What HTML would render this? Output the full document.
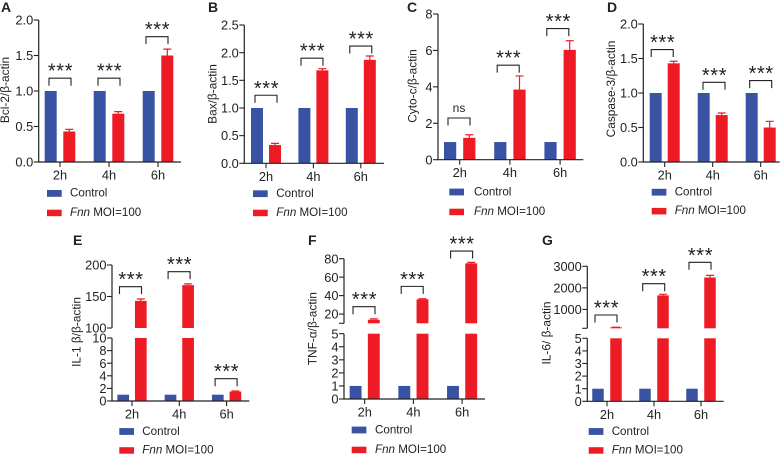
<!DOCTYPE html>
<html lang="en">
<head>
<meta charset="utf-8">
<title>Protein expression bar charts</title>
<style>
html,body{margin:0;padding:0;background:#fff;width:783px;height:454px;overflow:hidden}
svg{display:block;filter:blur(0.35px)}
text{font-family:"Liberation Sans",Arial,sans-serif;fill:#222}
</style>
</head>
<body>
<svg id="chart" width="783" height="454" viewBox="0 0 783 454" xmlns="http://www.w3.org/2000/svg"></svg>
<script>
const categories = ['2h', '4h', '6h'];
const controlName = 'Control';
const fnnNameItalic = 'Fnn';
const fnnNameRest = ' MOI=100';

const bcl2Control = [1, 1, 1];
const bcl2Fnn = [0.43, 0.68, 1.5];
const bcl2Error = [0.03, 0.03, 0.09];
const bcl2Ticks = [0, 0.5, 1, 1.5, 2];
const bcl2TickLabels = ['0.0', '0.5', '1.0', '1.5', '2.0'];
const bcl2Sig = ['***', '***', '***'];
const bcl2SigLevel = [1.18, 1.18, 1.765];

const baxControl = [1, 1, 1];
const baxFnn = [0.33, 1.68, 1.87];
const baxError = [0.03, 0.03, 0.07];
const baxTicks = [0, 0.5, 1, 1.5, 2, 2.5];
const baxTickLabels = ['0.0', '0.5', '1.0', '1.5', '2.0', '2.5'];
const baxSig = ['***', '***', '***'];
const baxSigLevel = [1.23, 1.9, 2.12];

const cytoControl = [0.97, 0.97, 0.97];
const cytoFnn = [1.2, 3.85, 6.03];
const cytoError = [0.17, 0.75, 0.5];
const cytoTicks = [0, 2, 4, 6, 8];
const cytoTickLabels = ['0', '2', '4', '6', '8'];
const cytoSig = ['ns', '***', '***'];
const cytoSigLevel = [2.29, 5.19, 7.2];

const caspControl = [1, 1, 1];
const caspFnn = [1.43, 0.68, 0.5];
const caspError = [0.03, 0.03, 0.09];
const caspTicks = [0, 0.5, 1, 1.5, 2];
const caspTickLabels = ['0.0', '0.5', '1.0', '1.5', '2.0'];
const caspSig = ['***', '***', '***'];
const caspSigLevel = [1.63, 1.155, 1.18];

const il1Control = [1, 1, 1];
const il1Fnn = [143, 168, 1.5];
const il1Error = [3, 2, 0.1];
const il1Ticks = [0, 2, 4, 6, 8, 10];
const il1TickLabels = ['0', '2', '4', '6', '8', '10'];
const il1UpperTicks = [100, 150, 200];
const il1UpperLabels = ['100', '150', '200'];
const il1Sig = ['***', '***', '***'];
const il1SigLevel = [165.6, 189.4, 3.54];

const tnfControl = [1, 1, 1];
const tnfFnn = [13.8, 36, 75];
const tnfError = [1, 0.6, 1];
const tnfTicks = [0, 1, 2, 3, 4, 5];
const tnfTickLabels = ['0', '1', '2', '3', '4', '5'];
const tnfUpperTicks = [10, 20, 40, 60, 80];
const tnfUpperLabels = ['', '20', '40', '60', '80'];
const tnfSig = ['***', '***', '***'];
const tnfSigLevel = [28, 50, 88.3];

const il6Control = [1, 1, 1];
const il6Fnn = [170, 1650, 2480];
const il6Error = [5, 50, 100];
const il6Ticks = [0, 1, 2, 3, 4, 5];
const il6TickLabels = ['0', '1', '2', '3', '4', '5'];
const il6UpperTicks = [125, 1000, 2000, 3000];
const il6UpperLabels = ['', '1000', '2000', '3000'];
const il6Sig = ['***', '***', '***'];
const il6SigLevel = [742, 2193, 3185];

const BLUE = '#3953a4', RED = '#ed1c24', INK = '#222';
const NS = 'http://www.w3.org/2000/svg';
const root = document.getElementById('chart');

function make(tag, attrs, parent) {
  const n = document.createElementNS(NS, tag);
  for (const k in attrs) n.setAttribute(k, attrs[k]);
  parent.appendChild(n);
  return n;
}

function drawPanel(p) {
  const g = make('g', {}, root);
  
  

  const letter = make('text', {x: p.letterX, y: p.letterY, 'font-size': 14, 'font-weight': 'bold', fill: '#111'}, g);
  letter.textContent = p.letter;
  
  

  // axis functions
  const lowerMax = p.lower[1];
  function lowerY(v) { return p.lowerPx[0] + (v - p.lower[0]) / (p.lower[1] - p.lower[0]) * (p.lowerPx[1] - p.lowerPx[0]); }
  function upperY(v) { return p.upperPx[0] + (v - p.upper[0]) / (p.upper[1] - p.upper[0]) * (p.upperPx[1] - p.upperPx[0]); }
  function yOf(v) { return (!p.upper || v <= lowerMax) ? lowerY(v) : upperY(v); }
  function xOf(i) { return p.x0 + i * p.step; }

  const barW = p.barW;
  const y0 = lowerY(p.lower[0]);

  function bar(cx, value, color, name) {
    if (p.upper && value > lowerMax) {
      const a = make('rect', {x: cx - barW / 2, y: lowerY(lowerMax), width: barW, height: y0 - lowerY(lowerMax), fill: color}, g);
      
      
      const b = make('rect', {x: cx - barW / 2, y: upperY(value), width: barW, height: Math.max(0, p.upperPx[0] - upperY(value)), fill: color}, g);
      
      
    } else {
      const r = make('rect', {x: cx - barW / 2, y: lowerY(value), width: barW, height: y0 - lowerY(value), fill: color}, g);
      
      
    }
  }

  categories.forEach(function (cat, i) {
    const cx = xOf(i);
    bar(cx - p.offset, p.control[i], BLUE, 'bar-control-' + cat);
    bar(cx + p.offset, p.fnn[i], RED, 'bar-fnn-' + cat);

    const top = yOf(p.fnn[i] + p.error[i]);
    const base = yOf(p.fnn[i]);
    const ex = cx + p.offset;
    const err = make('path', {d: 'M' + ex + ' ' + base + 'V' + top + 'M' + (ex - 4) + ' ' + top + 'H' + (ex + 4), stroke: RED, 'stroke-width': 1.2, fill: 'none'}, g);
    
    

    const by = yOf(p.sigLevel[i]);
    const bx = cx + p.bracketShift[i];
    const br = make('path', {d: 'M' + (bx - 11) + ' ' + (by + 7.5) + 'V' + by + 'H' + (bx + 11) + 'V' + (by + 7.5), stroke: INK, 'stroke-width': 1.1, fill: 'none'}, g);
    
    

    const isNs = p.sig[i] === 'ns';
    const st = make('text', {x: bx + (isNs ? 0 : 0.5), y: isNs ? by - 6 : by - 0.5, 'text-anchor': 'middle', 'font-size': isNs ? 12 : 20, 'letter-spacing': isNs ? 0 : 0.6}, g);
    st.textContent = p.sig[i];
    
    

    const t = make('line', {x1: cx, x2: cx, y1: y0, y2: y0 + 5, stroke: INK, 'stroke-width': 1.1}, g);
    
    

    const tl = make('text', {x: cx, y: y0 + 17.5, 'text-anchor': 'middle', 'font-size': 12.8}, g);
    tl.textContent = cat;
    
    
  });

  // axes
  const xAxis = make('line', {x1: p.axisX - 0.6, x2: p.axisEnd, y1: y0, y2: y0, stroke: INK, 'stroke-width': 1.2}, g);
  
  
  const yAxis = make('line', {x1: p.axisX, x2: p.axisX, y1: y0, y2: lowerY(lowerMax), stroke: INK, 'stroke-width': 1.2}, g);
  
  

  function ticks(values, labels, fn, kind) {
    values.forEach(function (v, i) {
      const y = fn(v);
      const t = make('line', {x1: p.axisX - 5, x2: p.axisX, y1: y, y2: y, stroke: INK, 'stroke-width': 1.1}, g);
      
      
      if (labels[i]) {
        const l = make('text', {x: p.axisX - 5.5, y: y + 4.6, 'text-anchor': 'end', 'font-size': 12.8}, g);
        l.textContent = labels[i];
        
        
      }
    });
  }
  ticks(p.ticks, p.tickLabels, lowerY, 'y');
  if (p.upper) {
    const upAxis = make('line', {x1: p.axisX, x2: p.axisX, y1: p.upperPx[0], y2: p.upperPx[1], stroke: INK, 'stroke-width': 1.2}, g);
    
    
    ticks(p.upperTicks, p.upperLabels, upperY, 'y-upper');
  }

  const title = make('text', {transform: 'translate(' + p.titleX + ' ' + p.titleY + ') rotate(-90)', 'text-anchor': 'middle', 'font-size': 11.9}, g);
  title.textContent = p.title;
  
  

  // legend
  const s1 = make('rect', {x: p.legX, y: p.leg1Y - 6.7, width: 14.7, height: 6.8, fill: BLUE}, g);
  
  
  const t1 = make('text', {x: p.legTextX, y: p.leg1Y, 'font-size': 11.6}, g);
  t1.textContent = controlName;
  
  
  const s2 = make('rect', {x: p.legX, y: p.leg2Y - 6.3, width: 14.7, height: 6.5, fill: RED}, g);
  
  
  const t2 = make('text', {x: p.legTextX, y: p.leg2Y, 'font-size': 11.6}, g);
  const ti = make('tspan', {'font-style': 'italic'}, t2);
  ti.textContent = fnnNameItalic;
  const tr = make('tspan', {}, t2);
  tr.textContent = fnnNameRest;
  
  
}

drawPanel({id: 'bcl2', letter: 'A', letterX: 1, letterY: 12, title: 'Bcl-2/β-actin', titleX: 9, titleY: 90,
  axisX: 38.7, axisEnd: 181, x0: 60, step: 49, offset: 9.3, barW: 12,
  lower: [0, 2], lowerPx: [162, 20], ticks: bcl2Ticks, tickLabels: bcl2TickLabels,
  control: bcl2Control, fnn: bcl2Fnn, error: bcl2Error, sig: bcl2Sig, sigLevel: bcl2SigLevel, bracketShift: [0, 0, -1],
  legX: 47, legTextX: 70, leg1Y: 196.7, leg2Y: 216});

drawPanel({id: 'bax', letter: 'B', letterX: 208, letterY: 12, title: 'Bax/β-actin', titleX: 216.7, titleY: 94,
  axisX: 244.3, axisEnd: 384, x0: 266, step: 47.4, offset: 9, barW: 12,
  lower: [0, 2.5], lowerPx: [163.3, 25], ticks: baxTicks, tickLabels: baxTickLabels,
  control: baxControl, fnn: baxFnn, error: baxError, sig: baxSig, sigLevel: baxSigLevel, bracketShift: [0, -1.4, 0],
  legX: 253, legTextX: 276.3, leg1Y: 197, leg2Y: 216});

drawPanel({id: 'cyto', letter: 'C', letterX: 407, letterY: 12, title: 'Cyto-c/β-actin', titleX: 416.7, titleY: 86,
  axisX: 438, axisEnd: 583.3, x0: 459.7, step: 50.2, offset: 9.6, barW: 12.2,
  lower: [0, 8], lowerPx: [159.7, 14], ticks: cytoTicks, tickLabels: cytoTickLabels,
  control: cytoControl, fnn: cytoFnn, error: cytoError, sig: cytoSig, sigLevel: cytoSigLevel, bracketShift: [-0.7, -1.7, -2.3],
  legX: 449.3, legTextX: 474, leg1Y: 195.3, leg2Y: 215});

drawPanel({id: 'caspase3', letter: 'D', letterX: 607, letterY: 12, title: 'Caspase-3/β-actin', titleX: 615, titleY: 89,
  axisX: 643.3, axisEnd: 779.7, x0: 664.7, step: 48, offset: 9, barW: 12,
  lower: [0, 2], lowerPx: [162, 24], ticks: caspTicks, tickLabels: caspTickLabels,
  control: caspControl, fnn: caspFnn, error: caspError, sig: caspSig, sigLevel: caspSigLevel, bracketShift: [-2.5, 1.3, 0],
  legX: 651.7, legTextX: 674.7, leg1Y: 195.5, leg2Y: 214.2});

drawPanel({id: 'il1b', letter: 'E', letterX: 73, letterY: 245, title: 'IL-1 β/β-actin', titleX: 80.7, titleY: 332,
  axisX: 112, axisEnd: 249.3, x0: 132, step: 47.3, offset: 8.8, barW: 11.7,
  lower: [0, 10], lowerPx: [401, 338], ticks: il1Ticks, tickLabels: il1TickLabels,
  upper: [100, 200], upperPx: [328, 265], upperTicks: il1UpperTicks, upperLabels: il1UpperLabels,
  control: il1Control, fnn: il1Fnn, error: il1Error, sig: il1Sig, sigLevel: il1SigLevel, bracketShift: [-1.5, -0.2, -0.5],
  legX: 119.3, legTextX: 142.3, leg1Y: 434.8, leg2Y: 453.5});

drawPanel({id: 'tnfa', letter: 'F', letterX: 308, letterY: 245, title: 'TNF-α/β-actin', titleX: 316.7, titleY: 328.7,
  axisX: 344, axisEnd: 485, x0: 364.7, step: 48.7, offset: 9.1, barW: 11.9,
  lower: [0, 5], lowerPx: [399, 333.7], ticks: tnfTicks, tickLabels: tnfTickLabels,
  upper: [10, 80], upperPx: [323.3, 258.7], upperTicks: tnfUpperTicks, upperLabels: tnfUpperLabels,
  control: tnfControl, fnn: tnfFnn, error: tnfError, sig: tnfSig, sigLevel: tnfSigLevel, bracketShift: [-0.7, -1.2, -0.5],
  legX: 351.7, legTextX: 375, leg1Y: 433.3, leg2Y: 453});

drawPanel({id: 'il6', letter: 'G', letterX: 542, letterY: 245, title: 'IL-6/ β-actin', titleX: 550.7, titleY: 333,
  axisX: 587.3, axisEnd: 723.7, x0: 607, step: 47, offset: 9, barW: 11.5,
  lower: [0, 5], lowerPx: [401.3, 338.3], ticks: il6Ticks, tickLabels: il6TickLabels,
  upper: [125, 3000], upperPx: [328.3, 266.3], upperTicks: il6UpperTicks, upperLabels: il6UpperLabels,
  control: il6Control, fnn: il6Fnn, error: il6Error, sig: il6Sig, sigLevel: il6SigLevel, bracketShift: [-1, -0.3, -1],
  legX: 588.7, legTextX: 611.7, leg1Y: 434.8, leg2Y: 453.5});
</script>
</body>
</html>
